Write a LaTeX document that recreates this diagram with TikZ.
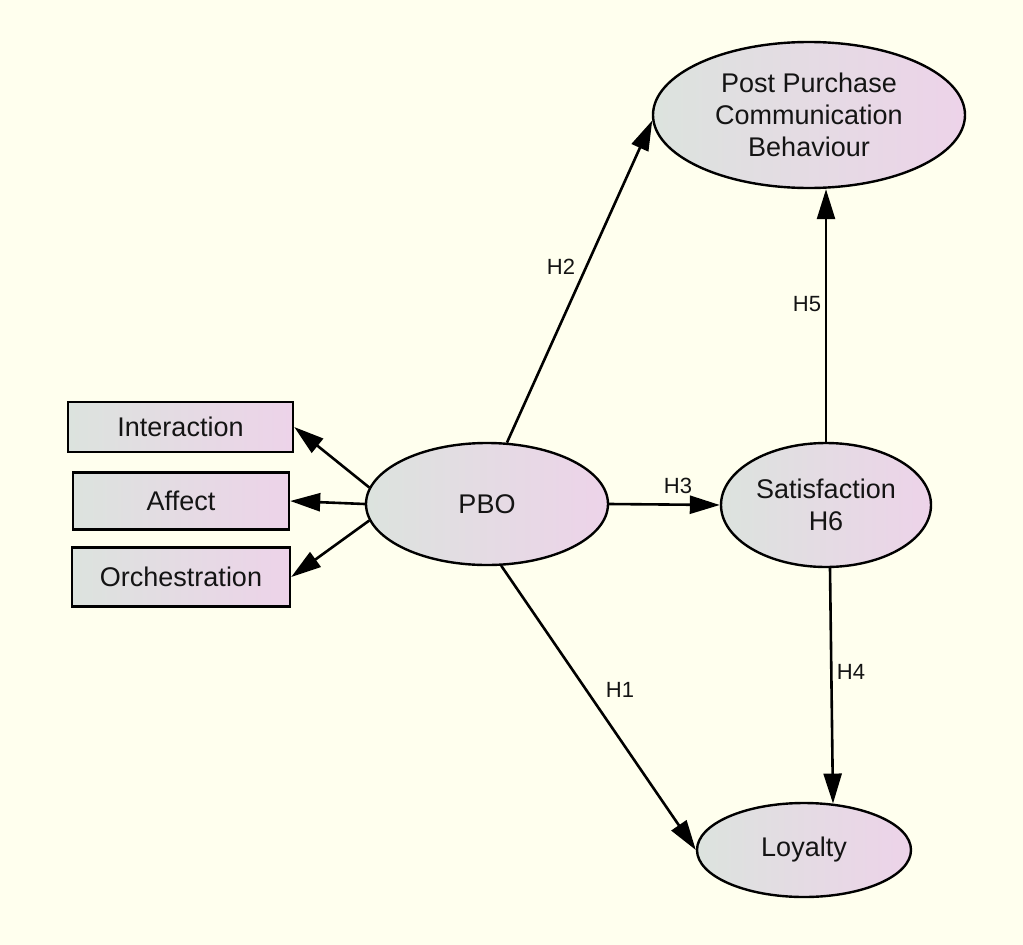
\documentclass[tikz,border=0pt]{standalone}
\usepackage{fontspec}
\setmainfont{Liberation Sans}
\usetikzlibrary{shapes.geometric,arrows.meta,calc}
\definecolor{bg}{RGB}{255,255,238}
\definecolor{lft}{RGB}{220,227,222}
\definecolor{rgt}{RGB}{237,211,233}
\definecolor{ink}{RGB}{20,20,20}
\begin{document}
\begin{tikzpicture}[x=1pt,y=-1pt,
  lat/.style={ellipse, draw=black, line width=2.4pt, left color=lft, right color=rgt,
    inner sep=0pt, text=ink, font=\fontsize{27}{32}\selectfont, align=center},
  obs/.style={rectangle, draw=black, line width=2.4pt, left color=lft, right color=rgt,
    inner sep=0pt, text=ink, font=\fontsize{27}{32}\selectfont},
  conn/.style={line width=2.6pt, draw=black, -{Triangle[length=30pt,width=18pt]}},
  lbl/.style={font=\fontsize{22}{26}\selectfont, inner sep=0pt, text=ink}]
\fill[bg] (0,0) rectangle (1023,945);
\useasboundingbox (0,0) rectangle (1023,945);

% latent variables
\node[lat, minimum width=312pt, minimum height=146pt] (ppcb) at (809,115)
  {Post Purchase\\Communication\\Behaviour};
\node[lat, minimum width=242pt, minimum height=122pt] (pbo) at (487,504) {PBO};
\node[lat, minimum width=210pt, minimum height=124pt] (sat) at (826,505)
  {Satisfaction\\H6};
\node[lat, minimum width=214pt, minimum height=94pt] (loy) at (804,850) {Loyalty};

% indicators
\node[obs, minimum width=225pt, minimum height=50pt] (inter) at (180.5,427) {Interaction};
\node[obs, minimum width=216pt, minimum height=57pt] (aff) at (181,501) {Affect};
\node[obs, minimum width=218pt, minimum height=59pt] (orch) at (181,577) {Orchestration};

% connectors
\draw[conn] (pbo.172) -- (inter.east);
\draw[conn] (pbo.west) -- (aff.east);
\draw[conn] (pbo.188) -- (orch.east);
\draw[conn] (pbo.72) -- (ppcb.182);
\draw[conn] (pbo.east) -- (sat.west);
\draw[conn] (sat.north) -- (ppcb.south -| sat.north);
\draw[conn] ($(sat.south)+(4,0)$) -- (loy.58);
\draw[conn] (pbo.283) -- (loy.west);

% labels
\node[lbl] (h2) at (561,267) {H2};
\node[lbl] (h5) at (807,304) {H5};
\node[lbl] (h3) at (678,486) {H3};
\node[lbl] (h4) at (851,672) {H4};
\node[lbl] (h1) at (620,690) {H1};
\end{tikzpicture}
\end{document}
